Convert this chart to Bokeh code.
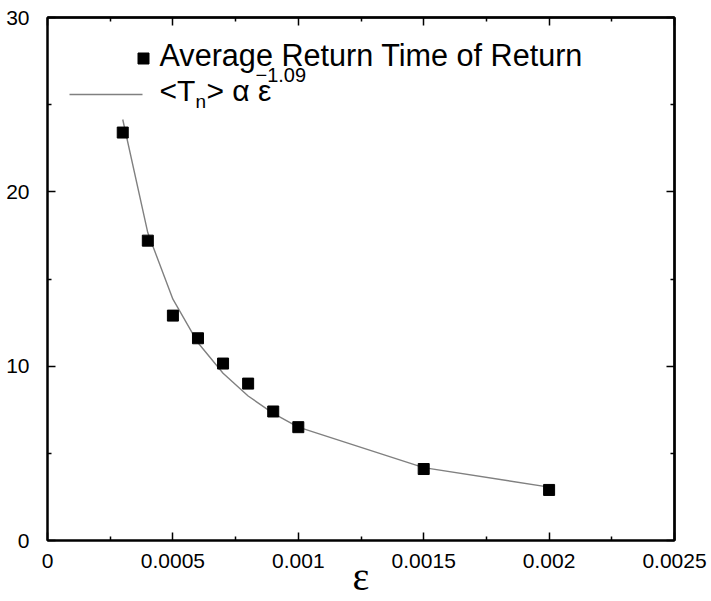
from bokeh.plotting import figure
from bokeh.models import Range1d, LinearAxis, FixedTicker, NumeralTickFormatter, Label
from bokeh.embed import file_html
from bokeh.resources import INLINE

# Measured average return times against the perturbation size epsilon
eps = [0.0003, 0.0004, 0.0005, 0.0006, 0.0007, 0.0008, 0.0009, 0.0010, 0.0015, 0.0020]
avg_return = [23.4, 17.2, 12.9, 11.6, 10.15, 9.0, 7.4, 6.5, 4.1, 2.9]

# Power-law fit <T_n> ~ eps^-1.09 evaluated at the same epsilons
fit_values = [24.15, 17.65, 13.84, 11.34, 9.59, 8.29, 7.29, 6.50, 4.18, 3.06]

x_ticks = [0, 0.0005, 0.001, 0.0015, 0.002, 0.0025]
x_minor = [0.00025, 0.00075, 0.00125, 0.00175, 0.00225]
y_ticks = [0, 10, 20, 30]
y_minor = [5, 15, 25]

X_MAX, Y_MAX = 0.0025, 30
W, H = 711, 601
LEFT, RIGHT, TOP, BOTTOM = 47, 674, 17, 540

SANS = "Liberation Sans"
TEXT_SHIFT = 12  # label baseline correction, px


def xd(px):
    """Canvas x pixel -> data x."""
    return (px - LEFT) / (RIGHT - LEFT) * X_MAX


def yd(py):
    """Canvas y pixel -> data y."""
    return (BOTTOM - py) / (BOTTOM - TOP) * Y_MAX


p = figure(width=W, height=H, output_backend="svg", toolbar_location=None,
           x_range=Range1d(0, X_MAX), y_range=Range1d(0, Y_MAX),
           x_axis_type=None, y_axis_type=None,
           min_border_left=LEFT, min_border_right=W - RIGHT,
           min_border_top=TOP, min_border_bottom=H - BOTTOM)
p.background_fill_color = "white"
p.border_fill_color = "white"
p.outline_line_color = "black"
p.outline_line_width = 2
p.xgrid.visible = False
p.ygrid.visible = False


def style_axis(ax, minor_len=4):
    ax.axis_line_width = 2
    ax.axis_line_color = "black"
    ax.major_tick_in = 8
    ax.major_tick_out = 0
    ax.minor_tick_in = minor_len
    ax.minor_tick_out = 0
    ax.major_tick_line_width = 1.5
    ax.minor_tick_line_width = 1.5
    ax.major_tick_line_color = "black"
    ax.minor_tick_line_color = "black"
    ax.major_label_text_font = SANS
    ax.major_label_text_font_size = "21px"
    ax.major_label_text_color = "black"


xaxis = LinearAxis(ticker=FixedTicker(ticks=x_ticks, minor_ticks=x_minor),
                   formatter=NumeralTickFormatter(format="0.[0000]"))
style_axis(xaxis)
xaxis.major_label_standoff = 13
xaxis.axis_label = "\u03b5"
xaxis.axis_label_text_font = "Liberation Serif"
xaxis.axis_label_text_font_style = "normal"
xaxis.axis_label_text_font_size = "40px"
xaxis.axis_label_text_color = "black"
xaxis.axis_label_standoff = -17
p.add_layout(xaxis, "below")

yaxis = LinearAxis(ticker=FixedTicker(ticks=y_ticks, minor_ticks=y_minor),
                   formatter=NumeralTickFormatter(format="0"))
style_axis(yaxis)
yaxis.major_label_standoff = 18
p.add_layout(yaxis, "left")


# Mirror ticks on the top and right edges: label-free axes that only carry
# minor ticks (one axis for the long ticks, one for the short ones).
def mirror_axis(side, long_ticks, short_ticks):
    for ticks, length in ((long_ticks, 8), (short_ticks, 4)):
        ax = LinearAxis(ticker=FixedTicker(ticks=[], minor_ticks=ticks))
        style_axis(ax, minor_len=length)
        ax.major_label_standoff = 0
        p.add_layout(ax, side)


mirror_axis("above", x_ticks, x_minor)
mirror_axis("right", y_ticks, y_minor)

# Fit curve and measured points
p.line(eps, fit_values, line_color="#808080", line_width=1.4)
p.scatter(eps, avg_return, marker="square", size=11, fill_color="black",
          line_color="black")


def text(px, py, s, size):
    p.add_layout(Label(x=xd(px), y=yd(py - TEXT_SHIFT), text=s,
                       text_font=SANS, text_font_size=size, text_color="black",
                       text_baseline="alphabetic", text_align="left"))


# Legend, drawn by hand
p.scatter([xd(143)], [yd(58)], marker="square", size=11, fill_color="black",
          line_color="black")
text(159, 66, "Average Return Time of Return", "30.6px")

p.line([xd(69), xd(142)], [yd(94), yd(94)], line_color="#808080", line_width=1.4)
text(159, 102, "<T", "30px")
text(195, 113, "n", "19px")
text(206, 102, "> \u03b1 \u03b5", "30px")
text(255, 86, "\u22121.09", "20px")

open("out.html", "w").write(file_html(p, INLINE))
